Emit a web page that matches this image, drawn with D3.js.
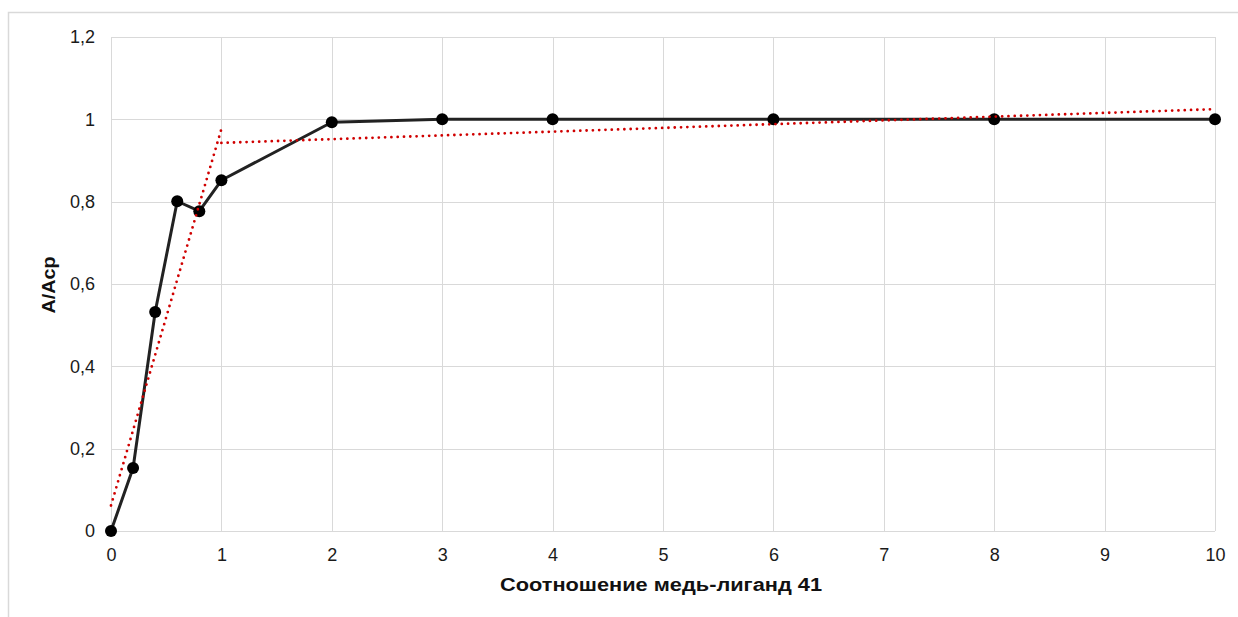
<!DOCTYPE html>
<html>
<head>
<meta charset="utf-8">
<script src="https://cdn.jsdelivr.net/npm/d3@7"></script>
<style>
  html, body { margin: 0; padding: 0; background: #fff; }
  svg { display: block; font-family: "Liberation Sans", Arial, sans-serif; }
</style>
</head>
<body>
<svg id="chart" width="1238" height="617"></svg>
<script>
// Copper : ligand ratio vs normalised absorbance
const ratio = [0, 0.2, 0.4, 0.6, 0.8, 1, 2, 3, 4, 6, 8, 10];
const absRatio = [0, 0.153, 0.532, 0.801, 0.777, 0.852, 0.993, 1, 1, 1, 1, 1];

// Linear trend segments: index ranges of points used for each fit
const trendRanges = [[0, 5], [5, 11]];

const xTicks = [0, 1, 2, 3, 4, 5, 6, 7, 8, 9, 10];
const yTicks = [0, 0.2, 0.4, 0.6, 0.8, 1, 1.2];

const xTitle = "Соотношение медь-лиганд 41";
const yTitle = "A/Acp";

const svg = d3.select("#chart");
const W = 1238, H = 617;
const plot = { left: 111, right: 1215, top: 37, bottom: 531 };

// outer chart frame
svg.append("rect")
  .attr("x", 8.5).attr("y", 12.5)
  .attr("width", W + 10).attr("height", H + 10)
  .attr("fill", "none").attr("stroke", "#d9d9d9").attr("stroke-width", 1.5);

const x = d3.scaleLinear().domain([0, 10]).range([plot.left, plot.right]);
const y = d3.scaleLinear().domain([0, 1.2]).range([plot.bottom, plot.top]);

// gridlines
const grid = svg.append("g");
grid.selectAll("line.v").data(xTicks).join("line")
  .attr("class", "v")
  .attr("x1", d => Math.round(x(d)) + 0.5).attr("x2", d => Math.round(x(d)) + 0.5)
  .attr("y1", plot.top).attr("y2", plot.bottom)
  .attr("stroke", "#d9d9d9").attr("stroke-width", 1);
grid.selectAll("line.h").data(yTicks).join("line")
  .attr("class", "h")
  .attr("x1", plot.left).attr("x2", plot.right)
  .attr("y1", d => Math.round(y(d)) + 0.5).attr("y2", d => Math.round(y(d)) + 0.5)
  .attr("stroke", "#d9d9d9").attr("stroke-width", 1);

const fmt = d => String(+d.toFixed(1)).replace(".", ",");

// axes (labels only, no domain lines)
const xAxis = svg.append("g")
  .attr("transform", `translate(0,${plot.bottom})`)
  .call(d3.axisBottom(x).tickValues(xTicks).tickSize(0).tickPadding(17).tickFormat(d => String(d)));
const yAxis = svg.append("g")
  .attr("transform", `translate(${plot.left},0)`)
  .call(d3.axisLeft(y).tickValues(yTicks).tickSize(0).tickPadding(16).tickFormat(fmt));
[xAxis, yAxis].forEach(a => {
  a.select(".domain").remove();
  a.selectAll("text").attr("font-size", 18).attr("fill", "#1a1a1a")
    .attr("font-family", "Liberation Sans, Arial, sans-serif");
});

// least-squares trend lines
function fit(xs, ys) {
  const n = xs.length;
  const mx = d3.mean(xs), my = d3.mean(ys);
  let sxy = 0, sxx = 0;
  for (let i = 0; i < n; i++) { sxy += (xs[i] - mx) * (ys[i] - my); sxx += (xs[i] - mx) ** 2; }
  const k = sxy / sxx;
  return { k, b: my - k * mx };
}
const trends = trendRanges.map(([a, b]) => {
  const xs = ratio.slice(a, b + 1), ys = absRatio.slice(a, b + 1);
  const f = fit(xs, ys);
  const x0 = xs[0], x1 = xs[xs.length - 1];
  return [[x0, f.k * x0 + f.b], [x1, f.k * x1 + f.b]];
});

const line = d3.line().x(d => x(d[0])).y(d => y(d[1]));

// data line and markers
const pts = ratio.map((r, i) => [r, absRatio[i]]);
svg.append("path")
  .attr("d", line(pts))
  .attr("fill", "none").attr("stroke", "#222").attr("stroke-width", 3)
  .attr("stroke-linejoin", "round");
svg.append("g").selectAll("circle").data(pts).join("circle")
  .attr("cx", d => x(d[0])).attr("cy", d => y(d[1])).attr("r", 6)
  .attr("fill", "#000");

svg.append("g").selectAll("path").data(trends).join("path")
  .attr("d", d => line(d))
  .attr("fill", "none").attr("stroke", "#d00000").attr("stroke-width", 2.8)
  .attr("stroke-linecap", "round").attr("stroke-dasharray", "0,6.3");

// axis titles (slightly wide bold face)
svg.append("text")
  .attr("x", 661).attr("y", 591)
  .attr("text-anchor", "middle")
  .attr("font-size", 18).attr("font-weight", "bold").attr("fill", "#111")
  .attr("textLength", 322).attr("lengthAdjust", "spacingAndGlyphs")
  .text(xTitle);
svg.append("text")
  .attr("transform", "translate(55,285) rotate(-90)")
  .attr("text-anchor", "middle")
  .attr("font-size", 18).attr("font-weight", "bold").attr("fill", "#111")
  .attr("textLength", 57).attr("lengthAdjust", "spacingAndGlyphs")
  .text(yTitle);
</script>
</body>
</html>
